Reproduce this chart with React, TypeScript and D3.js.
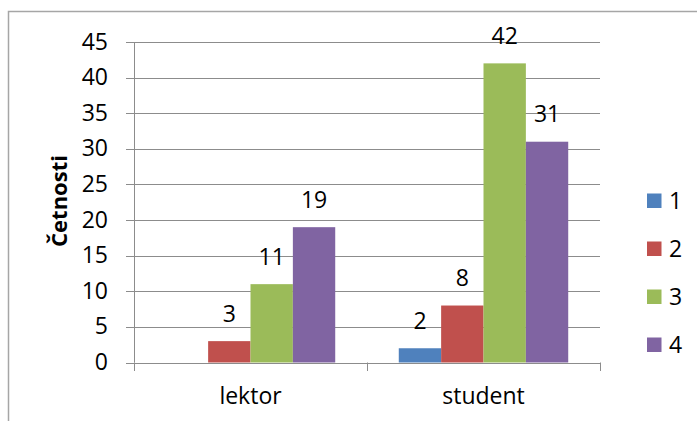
import React from "react";
import * as d3 from "d3";

// Frequencies of answers 1–4 by respondent group
const categories = ["lektor", "student"];
const seriesNames = ["1", "2", "3", "4"];
const lektorValues: (number | null)[] = [null, 3, 11, 19];
const studentValues: (number | null)[] = [2, 8, 42, 31];
const yTicks = [0, 5, 10, 15, 20, 25, 30, 35, 40, 45];
const colors = ["#4F81BD", "#C0504D", "#9BBB59", "#8064A2"];

const W = 697;
const H = 421;
const FONT = "'Open Sans', 'DejaVu Sans', sans-serif";
const FS = 23;

export default function App() {
  const rows = [lektorValues, studentValues];
  const x = d3.scaleBand<string>().domain(categories).range([134, 600]).paddingInner(0).paddingOuter(0);
  const xs = d3
    .scaleBand<string>()
    .domain(seriesNames)
    .range([0, x.bandwidth()])
    .paddingInner(0)
    .paddingOuter(0.75);
  const y = d3.scaleLinear().domain([0, 45]).range([362.5, 42]);
  const gridColor = "#8c8c8c";
  const [x0, x1] = x.range();

  return (
    <svg
      width={W}
      height={H}
      style={{ position: "absolute", left: 0, top: 0, background: "#fff" }}
      fontFamily={FONT}
    >
      {/* chart frame */}
      <path d={`M8.5,${H} V11.5 H${W}`} fill="none" stroke="#a6a6a6" strokeWidth={1.5} />

      {/* horizontal gridlines + y ticks */}
      {yTicks.map((t) => (
        <g key={t}>
          {t > 0 && (
            <line x1={x0} x2={x1} y1={Math.round(y(t)) + 0.5} y2={Math.round(y(t)) + 0.5} stroke={gridColor} />
          )}
          <line x1={126} x2={x0} y1={Math.round(y(t)) + 0.5} y2={Math.round(y(t)) + 0.5} stroke={gridColor} />
          <text x={108} y={y(t)} dy="0.33em" textAnchor="end" fontSize={FS} fill="#000">
            {t}
          </text>
        </g>
      ))}

      {/* bars */}
      {categories.map((c, ci) =>
        seriesNames.map((s, si) => {
          const v = rows[ci][si];
          if (v == null) return null;
          const bx = (x(c) as number) + (xs(s) as number);
          const bw = xs.bandwidth();
          return (
            <g key={c + s}>
              <rect x={bx} y={y(v)} width={bw} height={y(0) - y(v)} fill={colors[si]} />
              <text x={bx + bw / 2} y={y(v) - 19.5} textAnchor="middle" fontSize={FS} fill="#000">
                {v}
              </text>
            </g>
          );
        })
      )}

      {/* axes */}
      <line x1={x0 + 0.5} x2={x0 + 0.5} y1={y(45)} y2={y(0)} stroke={gridColor} />
      <line x1={x0} x2={x1} y1={Math.round(y(0)) + 0.5} y2={Math.round(y(0)) + 0.5} stroke={gridColor} />
      {[x0, (x(categories[1]) as number), x1].map((tx, i) => (
        <line key={i} x1={Math.round(tx) + 0.5} x2={Math.round(tx) + 0.5} y1={y(0)} y2={371} stroke={gridColor} />
      ))}
      {categories.map((c) => (
        <text key={c} x={(x(c) as number) + x.bandwidth() / 2} y={404} textAnchor="middle" fontSize={FS} fill="#000">
          {c}
        </text>
      ))}

      {/* y axis title */}
      <text
        transform={`translate(67,201) rotate(-90)`}
        textAnchor="middle"
        fontSize={22}
        fontWeight="bold"
        fill="#000"
      >
        Četnosti
      </text>

      {/* legend */}
      {seriesNames.map((s, i) => {
        const cy = 200.5 + i * 48;
        return (
          <g key={s}>
            <rect x={647} y={cy - 7} width={14.5} height={14.5} fill={colors[i]} />
            <text x={669} y={cy} dy="0.36em" fontSize={FS} fill="#000">
              {s}
            </text>
          </g>
        );
      })}
    </svg>
  );
}
